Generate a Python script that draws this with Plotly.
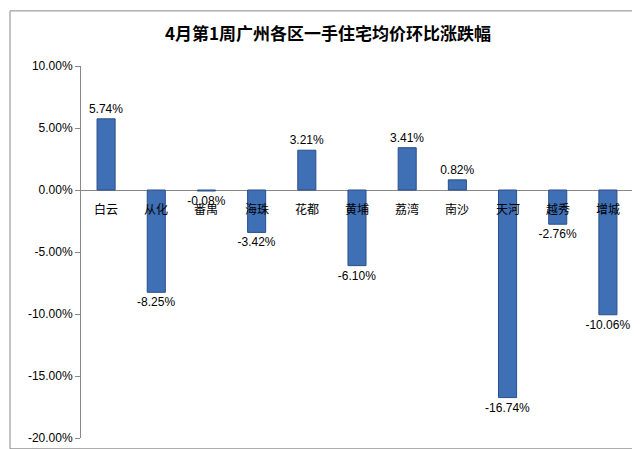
import plotly.graph_objects as go

districts = ["白云","从化","番禺","海珠","花都","黄埔","荔湾","南沙","天河","越秀","增城"]
changes = [5.74,-8.25,-0.08,-3.42,3.21,-6.10,3.41,0.82,-16.74,-2.76,-10.06]
tick_vals = [10,5,0,-5,-10,-15,-20]
tick_text = ["10.00%","5.00%","0.00%","-5.00%","-10.00%","-15.00%","-20.00%"]

L, R, T, B, W, H = 73, 15, 58, 13, 640, 449
pw, ph = W - L - R, H - T - B

fig = go.Figure(go.Bar(
    x=districts, y=changes, width=0.36,
    marker=dict(color="#3F6FB5", line=dict(color="#2A4F8A", width=1)),
    text=[f"{v:.2f}%" for v in changes],
    textposition="outside", cliponaxis=False, constraintext="none",
    textfont=dict(family="Liberation Sans, Arial", size=12, color="#000"),
))
for d in districts:
    fig.add_annotation(x=d, y=0, text=d, showarrow=False, yshift=-18,
                       font=dict(family="Noto Sans CJK SC", size=12, color="#000"))
fig.update_layout(
    width=W, height=H, paper_bgcolor="white", plot_bgcolor="white",
    margin=dict(l=L, r=R, t=T, b=B),
    title=dict(text="<b>4月第1周广州各区一手住宅均价环比涨跌幅</b>", x=0.5, y=0.955,
               xanchor="center", font=dict(family="Noto Sans CJK SC", size=17, color="#000")),
    showlegend=False,
    shapes=[dict(type="rect", xref="paper", yref="paper",
                 x0=-(L - 2) / pw, x1=1 + (R - 2) / pw, y0=-(B - 2) / ph, y1=1 + (T - 2) / ph,
                 line=dict(color="#888", width=1))],
)
fig.update_xaxes(showticklabels=False, showline=False, zeroline=False, showgrid=False)
fig.update_yaxes(range=[-20, 10], tickvals=tick_vals, ticktext=tick_text,
                 showline=True, linecolor="#888", ticks="outside", ticklen=5, tickcolor="#888",
                 showgrid=False, zeroline=True, zerolinecolor="#888", zerolinewidth=1,
                 tickfont=dict(family="Liberation Sans, Arial", size=12, color="#000"))
fig.write_html("out.html")
